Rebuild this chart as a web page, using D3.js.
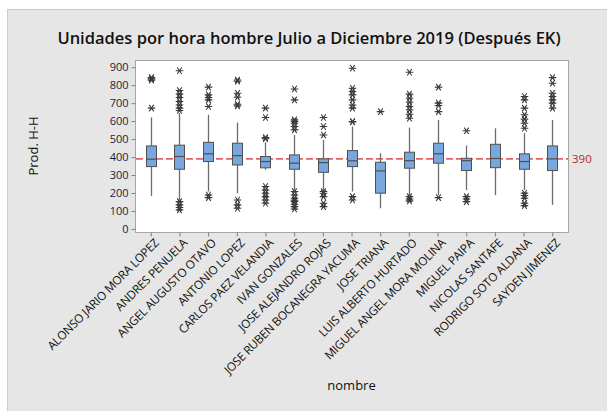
<!DOCTYPE html>
<html>
<head>
<meta charset="utf-8">
<script src="https://cdn.jsdelivr.net/npm/d3@7"></script>
<style>
  html, body { margin: 0; padding: 0; background: #ffffff; }
  svg { display: block; }
  text { font-family: "Open Sans", "Noto Sans", sans-serif; }
</style>
</head>
<body>
<svg id="chart" width="607" height="411"></svg>
<script>
// Operators (x categories)
const nombres = [
  "ALONSO JARIO MORA LOPEZ", "ANDRES PENUELA", "ANGEL AUGUSTO OTAVO", "ANTONIO LOPEZ",
  "CARLOS PAEZ VELANDIA", "IVAN GONZALES", "JOSE ALEJANDRO ROJAS", "JOSE RUBEN BOCANEGRA YACUMA",
  "JOSE TRIANA", "LUIS ALBERTO HURTADO", "MIGUEL ANGEL MORA MOLINA", "MIGUEL PAIPA",
  "NICOLAS SANTAFE", "RODRIGO SOTO ALDANA", "SAYDEN JIMENEZ"
];

// Box statistics per operator (units per man-hour)
const q1        = [347, 332, 375, 356, 340, 332, 315, 347, 199, 338, 366, 325, 341, 332, 325];
const mediana   = [388, 403, 418, 408, 375, 366, 369, 379, 323, 380, 418, 380, 392, 375, 390];
const q3        = [462, 466, 482, 477, 403, 412, 390, 436, 371, 427, 477, 393, 471, 418, 462];
const bigoteMin = [184, 155, 208, 199, 330, 217, 217, 208, 115, 189, 189, 217, 189, 217, 134];
const bigoteMax = [620, 644, 635, 592, 482, 523, 495, 570, 421, 564, 607, 464, 560, 533, 607];

// Outliers per operator
const atipicos = [
  [842, 835, 828, 672],
  [880, 770, 750, 731, 709, 690, 672, 659, 152, 134, 119, 106],
  [789, 746, 731, 718, 681, 189, 174],
  [829, 822, 755, 733, 694, 685, 161, 134, 115],
  [672, 620, 508, 502, 236, 217, 199, 180, 161, 143],
  [779, 718, 607, 598, 588, 570, 551, 208, 189, 171, 160, 152, 137, 124, 111],
  [620, 570, 523, 208, 199, 180, 143, 124],
  [894, 783, 765, 746, 718, 690, 672, 598, 595, 180, 161],
  [653],
  [872, 750, 727, 705, 681, 662, 638, 616, 180, 167, 156],
  [789, 700, 687, 653, 174],
  [546, 180, 167, 152],
  [],
  [737, 718, 672, 635, 611, 588, 560, 199, 186, 171, 143, 130],
  [842, 811, 755, 737, 718, 700, 672]
];

const yTicks = [0, 100, 200, 300, 400, 500, 600, 700, 800, 900];
const referencia = 390;

const titulo = "Unidades por hora hombre Julio a Diciembre 2019 (Después EK)";
const tituloY = "Prod. H-H";
const tituloX = "nombre";

const svg = d3.select("#chart");
const W = 607, H = 411;
const plot = { left: 135, right: 568, top: 60, bottom: 232 };

// Outer panel
svg.append("rect").attr("x", 7.5).attr("y", 9.5).attr("width", W).attr("height", H)
  .attr("fill", "#e6e6e6").attr("stroke", "#cccccc");

// Plot area
svg.append("rect")
  .attr("x", plot.left + 0.5).attr("y", plot.top + 0.5)
  .attr("width", plot.right - plot.left).attr("height", plot.bottom - plot.top)
  .attr("fill", "#ffffff").attr("stroke", "#a6a6a6");

const x = d3.scalePoint().domain(nombres).range([plot.left, plot.right]).padding(0.55);
const y = d3.scaleLinear().domain([-17, 940]).range([plot.bottom, plot.top]);

// Y axis
const yAxis = d3.axisLeft(y).tickValues(yTicks).tickSize(4).tickPadding(3);
const gy = svg.append("g").attr("transform", `translate(${plot.left + 0.5},0)`).call(yAxis);
gy.select(".domain").remove();
gy.selectAll(".tick line").attr("stroke", "#808080");
gy.selectAll(".tick text").attr("fill", "#1c1c3c").style("font-size", "11px");

// X axis
const xAxis = d3.axisBottom(x).tickSize(4).tickPadding(2);
const gx = svg.append("g").attr("transform", `translate(0,${plot.bottom + 0.5})`).call(xAxis);
gx.select(".domain").remove();
gx.selectAll(".tick line").attr("stroke", "#808080");
gx.selectAll(".tick text")
  .attr("fill", "#111")
  .style("font-size", "11.8px")
  .style("letter-spacing", "-0.25px")
  .attr("text-anchor", "end")
  .attr("dy", "0")
  .attr("transform", "translate(4,7) rotate(-45)");

// Reference line
svg.append("line")
  .attr("x1", plot.left + 1).attr("x2", plot.right)
  .attr("y1", y(referencia)).attr("y2", y(referencia))
  .attr("stroke", "#e06666").attr("stroke-width", 1.6)
  .attr("stroke-dasharray", "7,3");
svg.append("text")
  .attr("x", plot.right + 4).attr("y", y(referencia)).attr("dy", "0.35em")
  .attr("fill", "#b22a2a").style("font-size", "11.5px")
  .text(referencia);

// Boxes
const boxW = 10;
const g = svg.append("g");
nombres.forEach((n, i) => {
  const cx = Math.round(x(n)) + 0.5;
  // whiskers
  g.append("line").attr("x1", cx).attr("x2", cx)
    .attr("y1", y(q3[i])).attr("y2", y(bigoteMax[i]))
    .attr("stroke", "#6b6b6b").attr("stroke-width", 1.3);
  g.append("line").attr("x1", cx).attr("x2", cx)
    .attr("y1", y(q1[i])).attr("y2", y(bigoteMin[i]))
    .attr("stroke", "#6b6b6b").attr("stroke-width", 1.3);
  // box
  g.append("rect")
    .attr("x", cx - boxW / 2).attr("y", y(q3[i]))
    .attr("width", boxW).attr("height", y(q1[i]) - y(q3[i]))
    .attr("fill", "#79a6dc").attr("stroke", "#505050").attr("stroke-width", 1);
  // median
  g.append("line").attr("x1", cx - boxW / 2).attr("x2", cx + boxW / 2)
    .attr("y1", y(mediana[i])).attr("y2", y(mediana[i]))
    .attr("stroke", "#505050").attr("stroke-width", 1.2);
  // outliers as asterisks
  const r = 3.8;
  const star = `M${-r},0L${r},0M${-r * 0.6},${-r * 0.85}L${r * 0.6},${r * 0.85}M${r * 0.6},${-r * 0.85}L${-r * 0.6},${r * 0.85}`;
  atipicos[i].forEach(v => {
    g.append("path").attr("d", star)
      .attr("transform", `translate(${cx},${y(v)})`)
      .attr("stroke", "#3a3a3a").attr("stroke-width", 1.1).attr("fill", "none");
  });
});

// Titles
svg.append("text").attr("x", 309).attr("y", 44).attr("text-anchor", "middle")
  .style("font-size", "16.5px").style("font-weight", 600).attr("fill", "#111")
  .text(titulo);
svg.append("text")
  .attr("transform", `translate(38,${(plot.top + plot.bottom) / 2}) rotate(-90)`)
  .attr("text-anchor", "middle").style("font-size", "13px").style("font-weight", 500)
  .attr("fill", "#111").text(tituloY);
svg.append("text").attr("x", (plot.left + plot.right) / 2).attr("y", 390)
  .attr("text-anchor", "middle").style("font-size", "13px").style("font-weight", 500)
  .attr("fill", "#111").text(tituloX);
</script>
</body>
</html>
